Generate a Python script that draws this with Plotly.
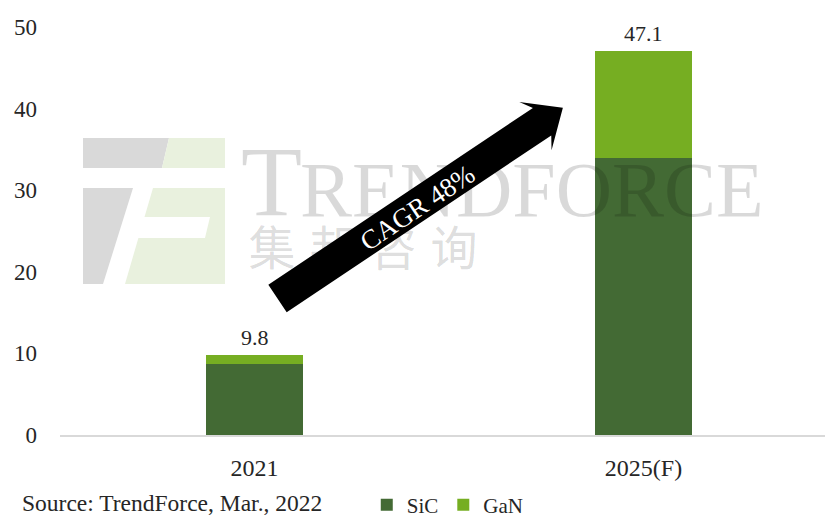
import plotly.graph_objects as go

# ---- data ----
categories = ["2021", "2025(F)"]
sic_values = [8.7, 34.0]
gan_values = [1.1, 13.1]
total_labels = ["9.8", "47.1"]
series_names = ["SiC", "GaN"]
y_ticks = [0, 10, 20, 30, 40, 50]

SIC_COLOR = "#436A34"
GAN_COLOR = "#76AE22"
FONT = "Liberation Serif"

W, H = 827, 518
L, R, T, B = 60, 2, 27, 83
PW = W - L - R
PH = H - T - B


def px2p(px, py):
    return ((px - L) / PW, (H - B - py) / PH)


def path_from(points):
    pts = [px2p(x, y) for x, y in points]
    s = "M %.5f,%.5f " % pts[0]
    for p in pts[1:]:
        s += "L %.5f,%.5f " % p
    return s + "Z"


fig = go.Figure()
fig.add_trace(go.Bar(x=categories, y=sic_values, name=series_names[0],
                     marker=dict(color=SIC_COLOR, line=dict(width=0)), width=0.247))
fig.add_trace(go.Bar(x=categories, y=gan_values, name=series_names[1],
                     marker=dict(color=GAN_COLOR, line=dict(width=0)), width=0.247))

# totals labels (x given as category index)
for i, (s, g, lab) in enumerate(zip(sic_values, gan_values, total_labels)):
    fig.add_annotation(x=i, y=s + g, text=lab, showarrow=False, yanchor="bottom",
                       yshift=3, font=dict(family=FONT, size=22, color="#262626"))

# ---- watermark (overlay axes in plot-fraction units) ----
wm = "rgba(0,0,0,0.15)"
tx, ty = px2p(241, 190)
rx, ry = px2p(300, 196)
fig.add_trace(go.Scatter(x=[tx], y=[ty], xaxis="x2", yaxis="y2", mode="text",
                         text=["T"], textposition="middle right", cliponaxis=False,
                         textfont=dict(family=FONT, size=100, color=wm),
                         showlegend=False, hoverinfo="skip"))
fig.add_trace(go.Scatter(x=[rx], y=[ry], xaxis="x2", yaxis="y2", mode="text",
                         text=["RENDFORCE"], textposition="middle right", cliponaxis=False,
                         textfont=dict(family=FONT, size=78, color=wm),
                         showlegend=False, hoverinfo="skip"))
cjk = ["集", "邦", "咨", "询"]
cjk_x = [272, 333, 393, 454]
cpts = [px2p(x, 253) for x in cjk_x]
fig.add_trace(go.Scatter(x=[p[0] for p in cpts], y=[p[1] for p in cpts], xaxis="x2", yaxis="y2",
                         mode="text", text=cjk, textposition="middle center", cliponaxis=False,
                         textfont=dict(family="Noto Sans CJK SC", size=47, color=wm),
                         showlegend=False, hoverinfo="skip"))

# logo shapes
LOGO_GRAY = "#d9d9d9"
LOGO_GREEN = "#e9f1de"
logo_parts = [
    ([(83, 138), (169, 138), (162, 168), (83, 168)], LOGO_GRAY),
    ([(169, 138), (225, 138), (225, 168), (162, 168)], LOGO_GREEN),
    ([(83, 188), (133, 188), (103, 284), (83, 284)], LOGO_GRAY),
    ([(153, 188), (225, 188), (225, 284), (125, 284), (138.4, 238), (205, 238),
      (210, 217), (144.5, 217)], LOGO_GREEN),
]
for pts, col in logo_parts:
    fig.add_shape(type="path", path=path_from(pts), xref="paper", yref="paper",
                  fillcolor=col, line=dict(width=0), layer="below")

# arrow
t0 = (277.5, 298.5)
uv = (0.832, -0.556)
nv = (0.556, 0.832)
arrow_un = [(0, -16.5), (318, -16.5), (310, -29), (343, 0), (310, 29), (318, 16.5), (0, 16.5)]
arrow_pts = [(t0[0] + u * uv[0] + n * nv[0], t0[1] + u * uv[1] + n * nv[1]) for u, n in arrow_un]
fig.add_shape(type="path", path=path_from(arrow_pts), xref="paper", yref="paper",
              fillcolor="black", line=dict(width=0), layer="above")
cx, cy = px2p(417, 208)
fig.add_annotation(xref="paper", yref="paper", x=cx, y=cy, text="CAGR 48%", showarrow=False,
                   textangle=-33.8, xanchor="center", yanchor="middle",
                   font=dict(family=FONT, size=27, color="white"))

# source
sx, sy = px2p(20, 503)
fig.add_annotation(xref="paper", yref="paper", x=sx, y=sy, text="Source: TrendForce, Mar., 2022",
                   showarrow=False, xanchor="left", yanchor="middle",
                   font=dict(family=FONT, size=23.5, color="#262626"))

fig.update_layout(
    width=W, height=H, autosize=False,
    margin=dict(l=L, r=R, t=T, b=B, autoexpand=False),
    barmode="stack",
    plot_bgcolor="white", paper_bgcolor="white",
    font=dict(family=FONT, size=22, color="#262626"),
    xaxis=dict(type="category", range=[-0.5, -0.5 + PW / 389.0], showgrid=False, showline=True,
               linecolor="#d9d9d9", linewidth=1.5, ticks="", ticklabelstandoff=10,
               tickfont=dict(size=24), automargin=False),
    yaxis=dict(range=[0, 50], tickvals=y_ticks, showgrid=False, zeroline=False,
               showline=False, ticks="", ticklabelstandoff=22, tickfont=dict(size=23),
               automargin=False),
    xaxis2=dict(overlaying="x", range=[0, 1], visible=False),
    yaxis2=dict(overlaying="y", range=[0, 1], visible=False),
    legend=dict(orientation="h", x=0.401, y=px2p(0, 505)[1], xanchor="left", yanchor="middle",
                font=dict(size=21), itemwidth=30, traceorder="normal",
                bgcolor="rgba(0,0,0,0)"),
    showlegend=True,
)

fig.write_html("out.html", config={"displayModeBar": False},
               post_script="document.body.style.margin='0';document.body.style.padding='0';")
